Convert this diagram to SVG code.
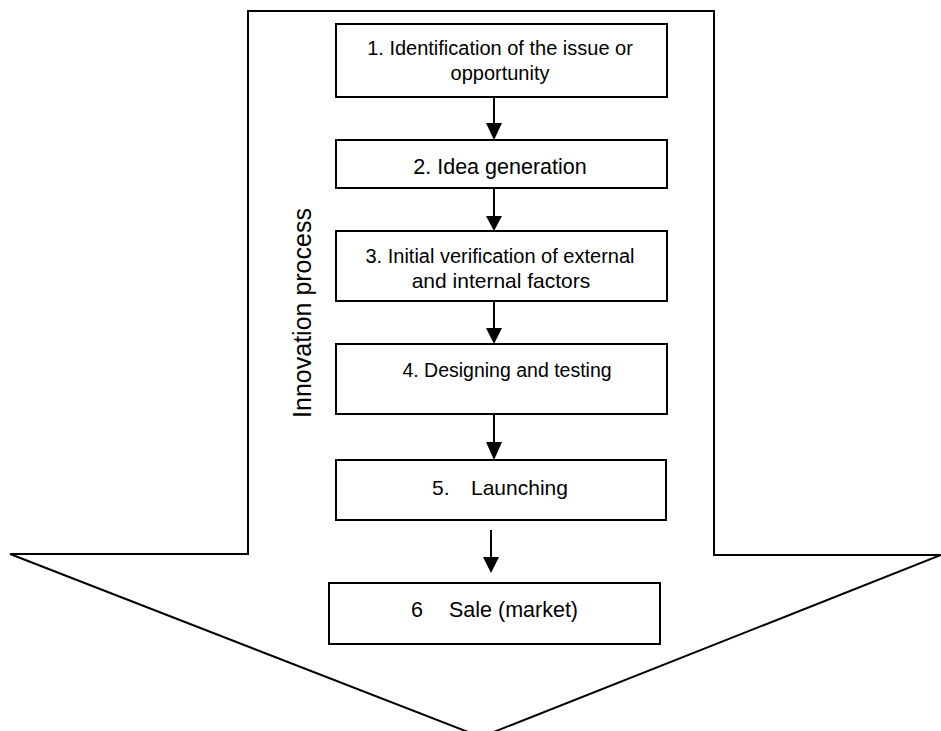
<svg xmlns="http://www.w3.org/2000/svg" width="941" height="731" viewBox="0 0 941 731">
  <style>
    .box { fill: #ffffff; stroke: #000000; stroke-width: 2; }
    .outline { fill: #ffffff; stroke: #000000; stroke-width: 2; stroke-linejoin: miter; }
    .lbl { font-family: "Liberation Sans", Arial, sans-serif; font-size: 20px; fill: #000000; }
    .lg { font-size: 21.5px; }
    .md { font-size: 21px; }
    .sm { font-size: 19.5px; }
    .side { font-family: "Liberation Sans", Arial, sans-serif; font-size: 25px; fill: #000000; }
    .conn line { stroke: #000000; stroke-width: 2; }
    .conn polygon { fill: #000000; stroke: none; }
  </style>
  <rect width="941" height="731" fill="#ffffff"/>

  <!-- big downward block arrow framing the process -->
  <g id="process-arrow">
    <polygon class="outline" points="248,11 714,11 714,555 941,555 481,737 10,554 248,554"/>
    <text class="side" transform="translate(311,313) rotate(-90)" text-anchor="middle">Innovation process</text>
  </g>

  <!-- steps -->
  <g id="step1">
    <rect class="box" x="336" y="24" width="331" height="73"/>
    <text class="lbl" x="500" y="55" text-anchor="middle">1. Identification of the issue or</text>
    <text class="lbl" x="500" y="80" text-anchor="middle">opportunity</text>
  </g>
  <g id="step2">
    <rect class="box" x="336" y="140" width="331" height="48"/>
    <text class="lbl lg" x="500" y="174" text-anchor="middle">2. Idea generation</text>
  </g>
  <g id="step3">
    <rect class="box" x="336" y="231" width="331" height="70"/>
    <text class="lbl" x="500" y="263" text-anchor="middle">3. Initial verification of external</text>
    <text class="lbl md" x="501" y="288" text-anchor="middle">and internal factors</text>
  </g>
  <g id="step4">
    <rect class="box" x="336" y="344" width="331" height="70"/>
    <text class="lbl sm" x="507" y="377" text-anchor="middle">4. Designing and testing</text>
  </g>
  <g id="step5">
    <rect class="box" x="336" y="460" width="330" height="60"/>
    <text class="lbl md" x="432" y="495">5.</text>
    <text class="lbl md" x="471" y="495">Launching</text>
  </g>
  <g id="step6">
    <rect class="box" x="329" y="583" width="331" height="61"/>
    <text class="lbl lg" x="411" y="617">6</text>
    <text class="lbl lg" x="449" y="617">Sale (market)</text>
  </g>

  <!-- connectors -->
  <g id="connectors" class="conn">
    <line x1="494" y1="97" x2="494" y2="125"/>
    <polygon points="486,123 502,123 494,140"/>
    <line x1="494" y1="188" x2="494" y2="218"/>
    <polygon points="486,216 502,216 494,231"/>
    <line x1="494" y1="301" x2="494" y2="330"/>
    <polygon points="486,328 502,328 494,344"/>
    <line x1="494" y1="414" x2="494" y2="444"/>
    <polygon points="486,442 502,442 494,460"/>
    <line x1="491" y1="530" x2="491" y2="559"/>
    <polygon points="483,557 499,557 491,573"/>
  </g>
</svg>
